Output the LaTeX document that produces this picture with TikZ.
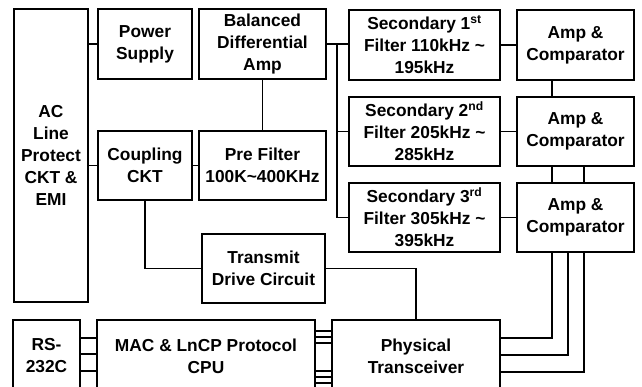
\documentclass[tikz,border=0pt]{standalone}
\usepackage{fontspec}
\setmainfont{Liberation Sans}
\usepackage{tikz}
\usetikzlibrary{positioning,calc}

\begin{document}
\begin{tikzpicture}[
    x=0.3mm, y=-0.3mm,
    font=\fontsize{14.8}{18.8}\selectfont\bfseries,
    line width=1.5pt,
    blk/.style={draw, align=center, inner sep=0pt, line width=1.5pt},
    sz/.style 2 args={minimum width=#1*0.3mm, minimum height=#2*0.3mm}
]
\useasboundingbox (0,0) rectangle (642,387);
\clip (0,0) rectangle (642,387);

\node[blk, sz={74}{293}] (acl) at (51,155.5) {AC\\Line\\Protect\\CKT \&\\EMI};
\node[blk, sz={94}{70}] (pwr) at (145,44) {Power\\Supply};
\node[blk, sz={94}{69}] (cpl) at (145,165.5) {Coupling\\CKT};
\node[blk, sz={127}{70}] (bda) at (262.5,44) {Balanced\\Differential\\Amp};
\node[blk, sz={127}{69}] (pre) at (262.5,165.5) {Pre Filter\\100K\textasciitilde400KHz};
\node[blk, sz={151}{70}] (sec1) at (424.5,45) {Secondary 1\textsuperscript{st}\\Filter 110kHz \textasciitilde\\195kHz};
\node[blk, sz={151}{69}] (sec2) at (424.5,131.5) {Secondary 2\textsuperscript{nd}\\Filter 205kHz \textasciitilde\\285kHz};
\node[blk, sz={151}{69}] (sec3) at (424.5,217.5) {Secondary 3\textsuperscript{rd}\\Filter 305kHz \textasciitilde\\395kHz};
\node[blk, sz={117}{70}] (amp1) at (575.5,45) {Amp \&\\Comparator};
\node[blk, sz={117}{69}] (amp2) at (575.5,131.5) {Amp \&\\Comparator};
\node[blk, sz={117}{69}] (amp3) at (575.5,217.5) {Amp \&\\Comparator};
\node[blk, sz={123}{69}] (tdc) at (263.5,268.5) {Transmit\\Drive Circuit};
\node[blk, sz={67}{72}] (rs) at (46.5,356) {RS-\\232C};
\node[blk, sz={218}{72}] (mac) at (206,356) {MAC \& LnCP Protocol\\CPU};
\node[blk, sz={168}{72}] (phy) at (416,356) {Physical\\Transceiver};

\coordinate (bus) at (337,0);
\coordinate (la) at (552,0);
\coordinate (lb) at (568,0);
\coordinate (lc) at (584,0);

\draw (pwr.west) -- (pwr.west -| acl.east);
\draw (cpl.west) -- (cpl.west -| acl.east);
\draw (cpl.east) -- (pre.west);
\draw (bda.south) -- (pre.north);
\draw (bda.east) -- (sec1.west |- bda.east);
\draw (bus |- bda.east) |- (sec3.west);
\draw (bus |- sec2.west) -- (sec2.west);
\draw (sec1.east) -- (amp1.west);
\draw (sec2.east) -- (amp2.west);
\draw (sec3.east) -- (amp3.west);
\draw (la |- amp1.south) -- (la |- amp2.north);
\draw (la |- amp2.south) -- (la |- amp3.north);
\draw (lc |- amp2.south) -- (lc |- amp3.north);
\draw (la |- amp3.south) -- (la |- 0,338) -- (phy.east |- 0,338);
\draw (lb |- amp3.south) -- (lb |- 0,355) -- (phy.east |- 0,355);
\draw (lc |- amp3.south) -- (lc |- 0,372) -- (phy.east |- 0,372);
\draw (cpl.south) |- (tdc.west);
\draw (tdc.east) -| (phy.north);
\foreach \y in {338,354,371}
  \draw (rs.east |- 0,\y) -- (mac.west |- 0,\y);
\foreach \y in {331,337,343,371,377,383}
  \draw (mac.east |- 0,\y) -- (phy.west |- 0,\y);
\end{tikzpicture}
\end{document}
